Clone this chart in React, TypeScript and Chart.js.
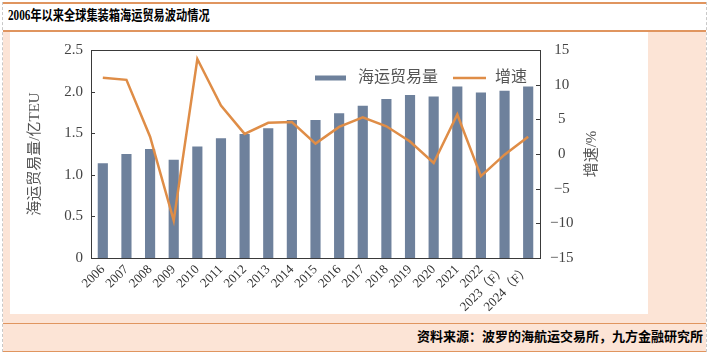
import React, { useEffect, useRef } from "react";
import { Chart, registerables } from "chart.js";

Chart.register(...registerables);

const years = ["2006","2007","2008","2009","2010","2011","2012","2013","2014","2015","2016","2017","2018","2019","2020","2021","2022","2023（F）","2024（F）"];
const volume = [1.14,1.25,1.31,1.18,1.34,1.44,1.49,1.56,1.66,1.66,1.74,1.83,1.91,1.96,1.94,2.06,1.99,2.01,2.06];
const growth = [11.0,10.7,2.5,-9.6,13.7,7.0,2.9,4.5,4.6,1.5,3.9,5.3,4.0,1.8,-1.3,5.7,-3.2,-0.1,2.5];
const leftTicks = [0,0.5,1.0,1.5,2.0,2.5];
const rightTicks = [-15,-10,-5,0,5,10,15];

const BAR = "#6e819c";
const LINE = "#df8d47";
const ORANGE = "#e0955f";
const PEACH = "#fce4d6";
const SERIF = "'Liberation Serif', 'Noto Sans CJK SC', serif";

const framePlugin = {
  id: "frame",
  afterDraw(chart: any) {
    const { ctx, chartArea } = chart;
    const { left, right, top, bottom } = chartArea;
    ctx.save();
    ctx.strokeStyle = "#3a3a3a";
    ctx.lineWidth = 1;
    ctx.strokeRect(Math.round(left) + 0.5, Math.round(top) + 0.5, Math.round(right - left), Math.round(bottom - top));
    const yl = chart.scales.y;
    const yr = chart.scales.y1;
    ctx.beginPath();
    leftTicks.forEach((v) => {
      const p = Math.round(yl.getPixelForValue(v)) + 0.5;
      ctx.moveTo(left, p);
      ctx.lineTo(left + 4, p);
    });
    rightTicks.forEach((v) => {
      const p = Math.round(yr.getPixelForValue(v)) + 0.5;
      ctx.moveTo(right, p);
      ctx.lineTo(right - 4, p);
    });
    ctx.stroke();

    // legend (bar series first, then line series), right aligned inside plot
    const dsBar = chart.data.datasets[1];
    const dsLine = chart.data.datasets[0];
    ctx.font = "16px " + SERIF;
    ctx.textBaseline = "middle";
    ctx.textAlign = "left";
    const ly = top + 28;
    const w2 = ctx.measureText(dsLine.label).width;
    const w1 = ctx.measureText(dsBar.label).width;
    const t2 = right - 13 - w2;
    const l2e = t2 - 9;
    const l2s = l2e - 33;
    const t1e = l2s - 15;
    const t1 = t1e - w1;
    const l1e = t1 - 12;
    const l1s = l1e - 31;
    ctx.fillStyle = dsBar.backgroundColor;
    ctx.fillRect(l1s, ly - 2.5, l1e - l1s, 5);
    ctx.strokeStyle = dsLine.borderColor;
    ctx.lineWidth = 2.5;
    ctx.beginPath();
    ctx.moveTo(l2s, ly);
    ctx.lineTo(l2e, ly);
    ctx.stroke();
    ctx.fillStyle = "#555";
    ctx.fillText(dsBar.label, t1, ly);
    ctx.fillText(dsLine.label, t2, ly);

    // right axis title, reading bottom to top
    ctx.translate(582, (top + bottom) / 2);
    ctx.rotate(-Math.PI / 2);
    ctx.fillStyle = "#555";
    ctx.font = "15px " + SERIF;
    ctx.textAlign = "center";
    ctx.textBaseline = "middle";
    ctx.fillText("增速/%", 0, 0);
    ctx.restore();
  },
};

function ChartBox() {
  const ref = useRef<HTMLCanvasElement | null>(null);
  useEffect(() => {
    if (!ref.current) return;
    const chart = new Chart(ref.current, {
      type: "bar",
      data: {
        labels: years,
        datasets: [
          {
            type: "line",
            label: "增速",
            data: growth,
            yAxisID: "y1",
            borderColor: LINE,
            backgroundColor: LINE,
            borderWidth: 2.5,
            pointRadius: 0,
            tension: 0,
            order: 0,
          } as any,
          {
            type: "bar",
            label: "海运贸易量",
            data: volume,
            yAxisID: "y",
            backgroundColor: BAR,
            borderWidth: 0,
            barPercentage: 0.43,
            categoryPercentage: 1,
            order: 1,
          },
        ],
      },
      options: {
        responsive: false,
        animation: false,
        layout: { padding: { top: 6, left: 0, right: 0, bottom: 0 } },
        plugins: {
          tooltip: { enabled: false },
          legend: { display: false },
        },
        scales: {
          x: {
            grid: { display: false, drawTicks: false },
            border: { display: false },
            ticks: {
              maxRotation: 45,
              minRotation: 45,
              autoSkip: false,
              padding: 4,
              color: "#333",
              font: { size: 13, family: SERIF },
            },
            afterFit: (s: any) => { s.height = 56; },
          },
          y: {
            position: "left",
            min: 0,
            max: 2.5,
            afterBuildTicks: (s: any) => { s.ticks = leftTicks.map((v) => ({ value: v })); },
            grid: { display: false, drawTicks: false },
            border: { display: false },
            ticks: {
              padding: 8,
              color: "#444",
              font: { size: 15, family: SERIF },
              callback: (v: any) => (v === 0 ? "0" : Number(v).toFixed(1)),
            },
            title: {
              display: true,
              text: "海运贸易量/亿TEU",
              color: "#555",
              padding: { top: 16, bottom: 0 },
              font: { size: 15, family: SERIF },
            },
            afterFit: (s: any) => { s.width = 81; },
          },
          y1: {
            position: "right",
            min: -15,
            max: 15,
            afterBuildTicks: (s: any) => { s.ticks = rightTicks.map((v) => ({ value: v })); },
            grid: { display: false, drawTicks: false },
            border: { display: false },
            ticks: {
              padding: 10,
              crossAlign: "center",
              color: "#444",
              font: { size: 15, family: SERIF },
              callback: (v: any) => (Number(v) < 0 ? "\u2212" + Math.abs(Number(v)) : String(v)),
            },
            afterFit: (s: any) => { s.width = 108; },
          },
        },
      } as any,
      plugins: [framePlugin],
    });
    return () => chart.destroy();
  }, []);
  return (
    <canvas
      ref={ref}
      width={638}
      height={283}
      style={{ position: "absolute", left: 10, top: 31, width: 638, height: 283 }}
    />
  );
}

export default function App() {
  const line = (top: number) => (
    <div style={{ position: "absolute", left: 3, width: 703, top, height: 1.5, background: ORANGE }} />
  );
  return (
    <div style={{ position: "fixed", left: 0, top: 0, width: 710, height: 356, background: "#fff", overflow: "hidden" }}>
      <div style={{ position: "absolute", left: 3, top: 31, width: 703, height: 292, background: PEACH }} />
      <div style={{ position: "absolute", left: 3, top: 324, width: 703, height: 27, background: PEACH }} />
      <div style={{ position: "absolute", left: 10, top: 31, width: 638, height: 283, background: "#fff" }} />
      <div style={{ position: "absolute", left: 2, top: 2, width: 0, height: 350, borderLeft: "1px dashed #c8c8c8" }} />
      <div style={{ position: "absolute", left: 706, top: 2, width: 0, height: 350, borderLeft: "1px dashed #c8c8c8" }} />
      {line(2)}
      {line(30)}
      {line(322.5)}
      {line(350.5)}
      <div
        style={{
          position: "absolute",
          left: 8,
          top: 8,
          fontFamily: SERIF,
          fontWeight: "bold",
          fontSize: 14,
          lineHeight: "16px",
          color: "#000",
          whiteSpace: "nowrap",
          transform: "scaleX(0.8)",
          transformOrigin: "left top",
        }}
      >
        2006年以来全球集装箱海运贸易波动情况
      </div>
      <div
        style={{
          position: "absolute",
          right: 7,
          top: 329,
          fontFamily: SERIF,
          fontWeight: "bold",
          fontSize: 13,
          lineHeight: "16px",
          color: "#000",
          whiteSpace: "nowrap",
        }}
      >
        资料来源：波罗的海航运交易所，九方金融研究所
      </div>
      <ChartBox />
    </div>
  );
}
